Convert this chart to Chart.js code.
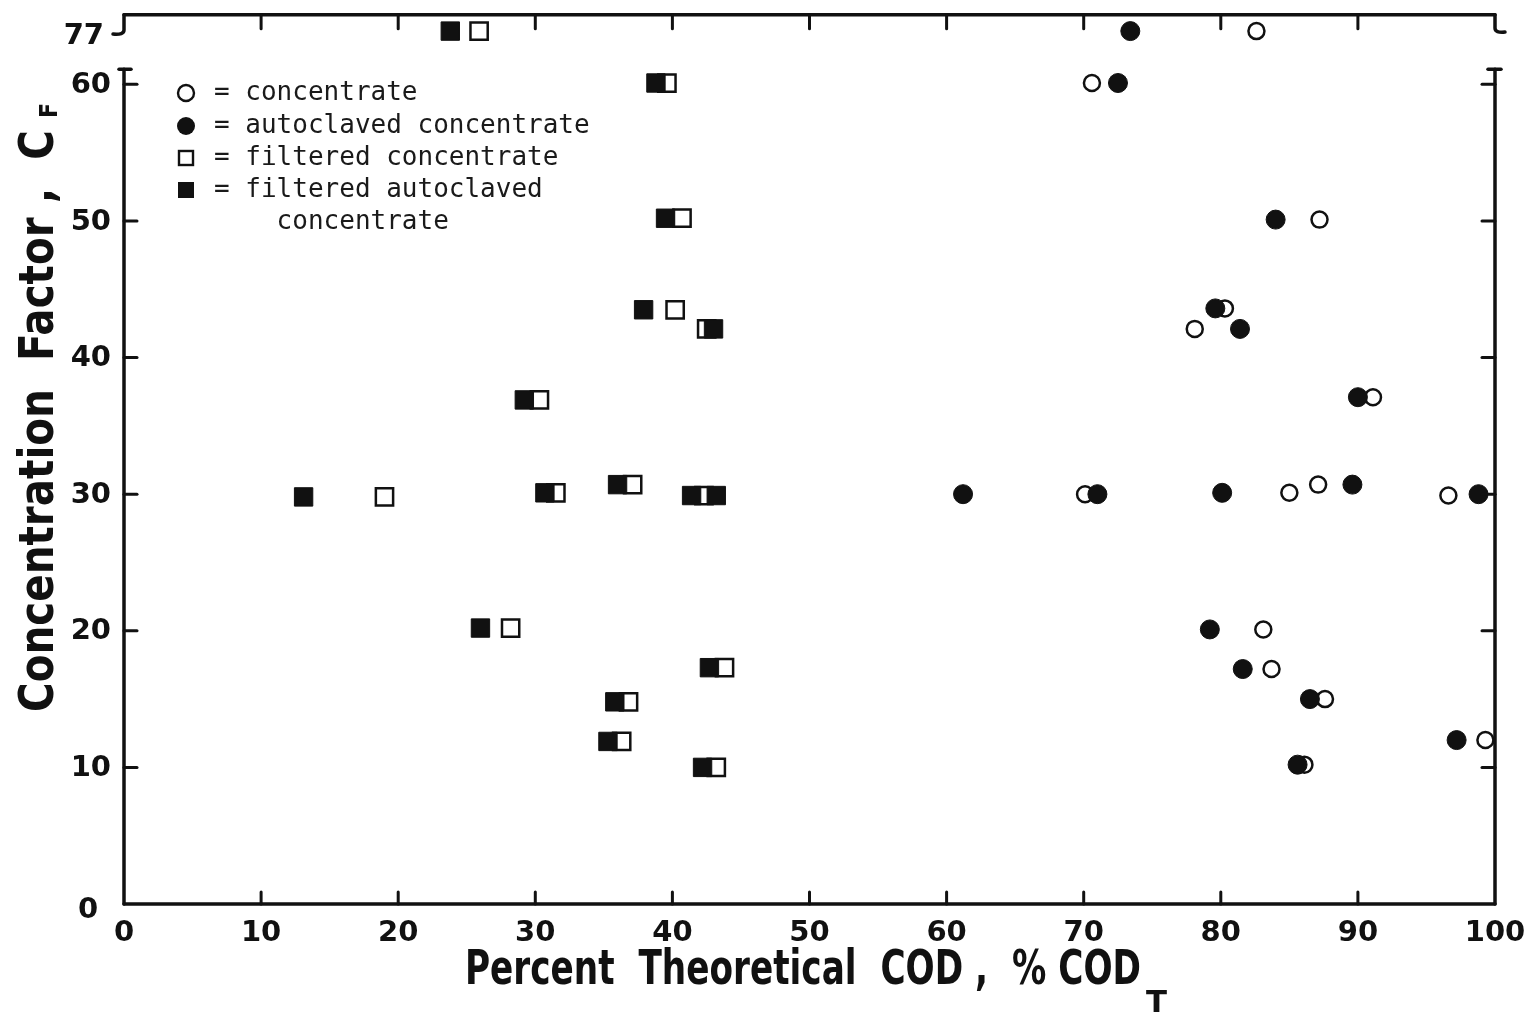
<!DOCTYPE html>
<html>
<head>
<meta charset="utf-8">
<title>Concentration factor vs percent theoretical COD</title>
<script src="https://cdn.jsdelivr.net/npm/chart.js@4.4.0/dist/chart.umd.min.js"></script>
<style>
  html, body { margin: 0; padding: 0; background: #fff; }
  #wrap { width: 1532px; height: 1019px; }
</style>
</head>
<body>
<div id="wrap"><canvas id="cod"></canvas></div>
<script>
// ---------- DATA ----------
// percent theoretical COD (x) against concentration factor CF (y)
const concX = [82.6, 70.6, 87.2, 80.3, 78.1, 91.1, 70.1, 85.0, 87.1, 96.6, 83.1, 83.7, 87.6, 99.3, 86.1];
const concY = [77, 60.1, 50.1, 43.6, 42.1, 37.1, 30.0, 30.1, 30.7, 29.9, 20.1, 17.2, 15.0, 12.0, 10.2];

const autoX = [73.4, 72.5, 84.0, 79.6, 81.4, 90.0, 61.2, 71.0, 80.1, 89.6, 98.8, 79.2, 81.6, 86.5, 97.2, 85.6];
const autoY = [77, 60.1, 50.1, 43.6, 42.1, 37.1, 30.0, 30.0, 30.1, 30.7, 30.0, 20.1, 17.2, 15.0, 12.0, 10.2];

const filtX = [25.9, 39.6, 40.7, 40.2, 42.5, 30.3, 19.0, 31.5, 37.1, 42.3, 28.2, 43.8, 36.8, 36.3, 43.2];
const filtY = [77, 60.1, 50.2, 43.5, 42.1, 36.9, 29.8, 30.1, 30.7, 29.9, 20.2, 17.3, 14.8, 11.9, 10.0];

const faX = [23.8, 38.8, 39.5, 37.9, 43.0, 29.2, 13.1, 30.7, 36.0, 41.4, 43.2, 26.0, 42.7, 35.8, 35.3, 42.2];
const faY = [77, 60.1, 50.2, 43.5, 42.1, 36.9, 29.8, 30.1, 30.7, 29.9, 29.9, 20.2, 17.3, 14.8, 11.9, 10.0];

const xTicks = [0, 10, 20, 30, 40, 50, 60, 70, 80, 90, 100];
const yTicks = [0, 10, 20, 30, 40, 50, 60, 77];

const legendLines = ["= concentrate", "= autoclaved concentrate", "= filtered concentrate",
                     "= filtered autoclaved", "    concentrate"];

// ---------- BROKEN Y AXIS ----------
// the axis runs 0..60 normally, then jumps to a single row at CF = 77
const AXIS_MAX = 60;
const Y_77 = 63.9;      // where the 77 row sits on the linear scale
const Y_TOP = 65.1;
const BREAK_CAP = 61.1;
const brokenY = v => v > 70 ? Y_77 : v;
const pts = (xs, ys) => xs.map((x, i) => ({ x, y: brokenY(ys[i]) }));

const ink = "#111";
const tickFont = 'bold 29px "DejaVu Sans"';

// ---------- DRAWING HELPERS ----------
function line(ctx, x1, y1, x2, y2) {
  ctx.beginPath(); ctx.moveTo(x1, y1); ctx.lineTo(x2, y2); ctx.stroke();
}
// draws text squeezed horizontally to a given width
function fitText(ctx, text, x, y, width) {
  const w = ctx.measureText(text).width;
  ctx.save();
  ctx.translate(x, y);
  ctx.scale(width / w, 1);
  ctx.fillText(text, 0, 0);
  ctx.restore();
}

const frame = {
  id: "frame",
  afterDatasetsDraw(chart) {
    const { ctx, chartArea: a, scales: { x, y } } = chart;
    const xl = a.left, xr = a.right, yt = a.top, yb = a.bottom;
    const yCap = y.getPixelForValue(BREAK_CAP);
    const yHook = y.getPixelForValue(Y_77);
    ctx.save();
    ctx.strokeStyle = ink;
    ctx.lineCap = "round";
    ctx.lineWidth = 3.5;

    // bottom + top
    line(ctx, xl, yb, xr, yb);
    line(ctx, xl, yt, xr, yt);

    // left axis, lower part with a cap at the break
    line(ctx, xl, yb, xl, yCap);
    line(ctx, xl - 5, yCap, xl + 7, yCap);
    // left axis, upper part ending in a hook at 77
    ctx.beginPath();
    ctx.moveTo(xl, yt);
    ctx.lineTo(xl, yHook - 1);
    ctx.quadraticCurveTo(xl, yHook + 4, xl - 11, yHook + 3);
    ctx.stroke();

    // right axis, same break
    line(ctx, xr, yb, xr, yCap);
    line(ctx, xr - 7, yCap, xr + 6, yCap);
    ctx.beginPath();
    ctx.moveTo(xr, yt);
    ctx.lineTo(xr, yHook - 3);
    ctx.quadraticCurveTo(xr, yHook + 2, xr + 10, yHook + 1);
    ctx.stroke();

    // inward tick marks
    ctx.lineWidth = 3;
    xTicks.slice(1, -1).forEach(v => {
      const px = x.getPixelForValue(v);
      line(ctx, px, yb, px, yb - 12);
      line(ctx, px, yt, px, yt + 14);
    });
    yTicks.filter(v => v > 0 && v <= AXIS_MAX).forEach(v => {
      const py = y.getPixelForValue(v);
      line(ctx, xl, py, xl + 13, py);
      line(ctx, xr, py, xr - 13, py);
    });
    ctx.restore();
  },

  afterDraw(chart) {
    const { ctx, chartArea: a, scales: { x, y } } = chart;
    ctx.save();
    ctx.fillStyle = ink;
    ctx.strokeStyle = ink;

    // tick labels
    ctx.font = tickFont;
    ctx.textBaseline = "middle";
    ctx.textAlign = "center";
    xTicks.forEach(v => ctx.fillText(String(v), x.getPixelForValue(v), a.bottom + 29));
    yTicks.forEach(v => {
      if (v === 0) { ctx.textAlign = "center"; ctx.fillText("0", a.left - 36, a.bottom + 6); return; }
      ctx.textAlign = "right";
      const right = v > AXIS_MAX ? a.left - 20 : a.left - 13;
      ctx.fillText(String(v), right, y.getPixelForValue(brokenY(v)) + (v > AXIS_MAX ? 5 : 1));
    });

    // legend
    ctx.textAlign = "left";
    const lx = 186, rows = [93, 126, 158, 190, 222];
    ctx.lineWidth = 2.4;
    ctx.beginPath(); ctx.arc(lx, rows[0], 8, 0, Math.PI * 2); ctx.stroke();
    ctx.beginPath(); ctx.arc(lx, rows[1], 9, 0, Math.PI * 2); ctx.fill();
    ctx.strokeRect(lx - 7, rows[2] - 7, 14, 14);
    ctx.fillRect(lx - 8, rows[3] - 8, 16, 16);
    ctx.font = '26px "DejaVu Sans Mono"';
    ctx.fillStyle = "#1a1a1a";
    legendLines.forEach((t, i) => ctx.fillText(t, 214, rows[i]));

    // axis titles
    ctx.fillStyle = ink;
    ctx.textBaseline = "alphabetic";
    ctx.font = 'bold 48px "DejaVu Sans"';
    fitText(ctx, "Percent  Theoretical  COD ,  % COD", 465, 984, 676);
    ctx.font = 'bold 30px "DejaVu Sans"';
    fitText(ctx, "T", 1146, 1012, 21);

    ctx.save();
    ctx.translate(53, 712);
    ctx.rotate(-Math.PI / 2);
    ctx.font = 'bold 48px "DejaVu Sans"';
    fitText(ctx, "Concentration  Factor ,  C", 0, 0, 582);
    ctx.font = 'bold 24px "DejaVu Sans"';
    fitText(ctx, "F", 594, 4, 15);
    ctx.restore();

    ctx.restore();
  }
};

// ---------- CHART ----------
new Chart(document.getElementById("cod"), {
  type: "scatter",
  data: {
    datasets: [
      { label: "concentrate", data: pts(concX, concY), pointStyle: "circle",
        pointRadius: 8, pointBorderWidth: 2.5, pointBackgroundColor: "#fff", pointBorderColor: ink, order: 2 },
      { label: "autoclaved concentrate", data: pts(autoX, autoY), pointStyle: "circle",
        pointRadius: 9.5, pointBorderWidth: 1, pointBackgroundColor: ink, pointBorderColor: ink, order: 1 },
      { label: "filtered concentrate", data: pts(filtX, filtY), pointStyle: "rect",
        pointRadius: 12.2, pointBorderWidth: 2.5, pointBackgroundColor: "#fff", pointBorderColor: ink, order: 2 },
      { label: "filtered autoclaved concentrate", data: pts(faX, faY), pointStyle: "rect",
        pointRadius: 13, pointBorderWidth: 1, pointBackgroundColor: ink, pointBorderColor: ink, order: 1 }
    ].map(d => Object.assign(d, { clip: false, pointHoverRadius: d.pointRadius }))
  },
  options: {
    responsive: true,
    maintainAspectRatio: false,
    animation: false,
    events: [],
    // axes, labels and titles are drawn by the frame plugin
    layout: { padding: { top: 12, right: 37, left: 124, bottom: 115 } },
    plugins: { legend: { display: false }, tooltip: { enabled: false } },
    scales: {
      x: { type: "linear", min: 0, max: 100, display: false },
      y: { type: "linear", min: 0, max: Y_TOP, display: false }
    }
  },
  plugins: [frame]
});
</script>
</body>
</html>
